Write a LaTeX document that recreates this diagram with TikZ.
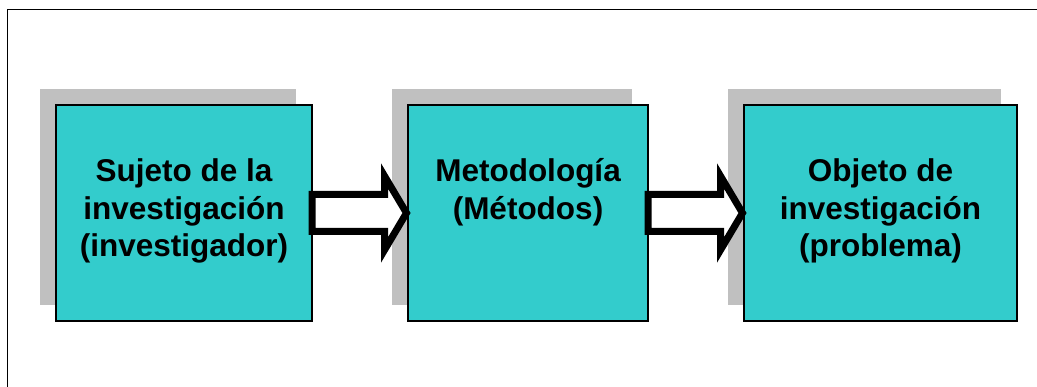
\documentclass[tikz,border=0pt]{standalone}
\usepackage{fontspec}
\setmainfont{Liberation Sans}
\usetikzlibrary{calc,shadows}

\definecolor{boxcyan}{HTML}{33CCCC}
\definecolor{shadowgrey}{HTML}{C0C0C0}

\begin{document}
\begin{tikzpicture}[x=1pt,y=-1pt,
  stagebox/.style={draw=black, line width=1.5pt, fill=boxcyan,
    inner sep=0pt, outer sep=0pt, minimum height=216pt, anchor=north west,
    general shadow={fill=shadowgrey, shadow xshift=-16.5pt, shadow yshift=16pt}},
  stagetext/.style={align=center, inner sep=0pt, anchor=base,
    font=\bfseries\fontsize{31.5}{37.5}\selectfont},
  hollowarrow/.style={draw=black, line width=7pt, fill=white, miter limit=10}]

  \useasboundingbox (0,0) rectangle (1037,387);

  % outer frame (open towards the right and bottom edges)
  \draw[line width=1.5pt] (1037,9.5) -- (7.5,9.5) -- (7.5,387);

  % the three stages
  \node[stagebox, minimum width=256pt] (b1) at (56,105) {};
  \node[stagebox, minimum width=240pt] (b2) at (408,105) {};
  \node[stagebox, minimum width=273pt] (b3) at (744,105) {};

  % labels: the base anchor sits on the last line
  \node[stagetext] (t1) at ($(b1.north)+(0,152)$) {Sujeto de la\\investigación\\(investigador)};
  \node[stagetext] (t2) at ($(b2.north)+(0,114.5)$) {Metodología\\(Métodos)};
  \node[stagetext] (t3) at ($(b3.north)+(0,152)$) {Objeto de\\investigación\\(problema)};

  % hollow block arrows between consecutive stages
  \foreach \s/\t in {b1/b2, b2/b3}{
    \draw[hollowarrow]
      ($(\s.east)+(0,-18.5)$) -- ++(72.5,0) -- ++(0,-18.5)
      -- ($(\t.west)+(-1.5,0)$)
      -- ($(\s.east)+(72.5,37)$) -- ++(0,-18.5)
      -- ($(\s.east)+(0,18.5)$) -- cycle;
  }
\end{tikzpicture}
\end{document}
